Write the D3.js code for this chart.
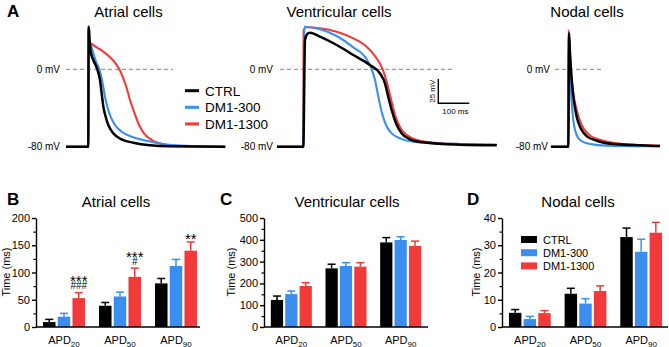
<!DOCTYPE html>
<html>
<head>
<meta charset="utf-8">
<script src="https://cdn.jsdelivr.net/npm/d3@7"></script>
<style>
  body { margin: 0; background: #fff; }
  svg { display: block; font-family: "Liberation Sans", Arial, Helvetica, sans-serif; }
</style>
</head>
<body>
<svg id="fig" width="669" height="347"></svg>
<script>
// ---- data ----
const seriesNames = ["CTRL", "DM1-300", "DM1-1300"];
const apdGroups = ["20", "50", "90"];
const colors = ["#000000", "#3a8ef0", "#f23a3a"];

// action potential traces: [time ms from upstroke, mV]
const atrialCtrl = [[-72,-80],[0,-80],[0.8,44],[2.5,40],[5,26],[7.6,18.2],[16.2,9.6],[29.1,0],[37.7,-11.1],[43.1,-24.8],[48.5,-38.6],[56,-49],[64.6,-57.6],[80.6,-66.2],[107.5,-72.4],[145,-75.9],[199,-78.6],[263.5,-79.6],[442,-80]];
const atrialDm300 = [[-72,-80],[0,-80],[1.5,31],[7.7,26.2],[16.2,16.5],[24.8,7.9],[35.5,0],[46.3,-14.5],[53.8,-28.3],[61.3,-38.6],[72,-49],[86,-57.6],[107.5,-64.5],[140,-69.7],[188,-73.8],[242,-77.2],[285,-78.6],[350,-79.6],[442,-80]];
const atrialDm1300 = [[-72,-80],[0,-80],[2,28],[10.8,26.2],[26.9,22.7],[48.5,18.2],[70,12.4],[86,6.9],[100,0],[113,-9.3],[124,-19.6],[134.5,-31.7],[147.4,-43.8],[161.3,-55.8],[179.7,-66.2],[204.5,-73.1],[236.8,-77.2],[274,-79.3],[442,-80]];

const ventCtrl = [[-85,-80],[0,-80],[5.5,30.3],[13,36.5],[21.6,37.9],[53.9,33.7],[107.7,25.1],[161.3,14.8],[215,4.4],[247,-4.1],[263.5,-14.5],[274,-28.3],[285,-42.1],[299,-55.8],[317,-66.2],[344,-72.4],[387,-75.5],[452,-77.2],[505,-77.9],[624,-78.5]];
const ventDm300 = [[-85,-80],[0,-80],[3.2,44],[53.9,41.4],[107.7,34.4],[161.3,22.7],[204.5,10.3],[220.6,0],[231.3,-11.1],[242,-28.3],[252.7,-43.8],[266.8,-57.6],[285,-66.2],[312,-71.4],[355,-74.9],[430,-76.5],[505,-77.2],[624,-78]];
const ventDm1300 = [[-85,-80],[0,-80],[1,40],[8.6,43.4],[53.9,42.4],[107.7,38.9],[161.3,32],[204.5,23.4],[236.6,11.4],[256,0],[269,-12.8],[282,-30],[296,-47.3],[314,-61],[339,-69],[376.5,-73.8],[452,-76.5],[505,-77.2],[624,-78]];

const nodalCtrl = [[-56,-80],[0,-80],[2.3,37.2],[5.5,16.5],[8.7,0],[13,-18],[18.4,-33.5],[27,-49],[40,-61],[59.3,-69],[91.6,-73.8],[145,-77.2],[231,-78.6],[296,-79.3]];
const nodalDm300 = [[-56,-80],[0,-80],[1.5,30],[5.5,0],[9.8,-28.3],[16,-52.4],[25,-66.2],[37.7,-73.1],[70,-77.2],[124,-78.9],[296,-79.5]];
const nodalDm1300 = [[-56,-80],[0,-80],[1,40.6],[7.6,0],[16,-24.8],[27,-42],[43,-57.6],[64.5,-67],[96.8,-72.4],[145,-75.9],[231,-78.3],[296,-79]];

// APD bars: rows = CTRL, DM1-300, DM1-1300; columns = APD20, APD50, APD90
const atrialMeans = [[9, 39, 80], [19, 56, 112], [53, 92, 140]];
const atrialSems  = [[5, 6, 9], [6, 8, 12], [10, 16, 16]];
const ventMeans = [[124, 269, 388], [151, 280, 399], [188, 277, 372]];
const ventSems  = [[18, 19, 22], [14, 15, 15], [15, 18, 22]];
const nodalMeans = [[5.2, 12.2, 33], [2.9, 8.6, 27.6], [5.1, 13.2, 34.6]];
const nodalSems  = [[1.2, 2, 3.3], [1, 1.8, 4.6], [0.9, 1.9, 3.8]];

// y ticks per panel
const atrialTicks = [0, 50, 100, 150, 200];
const ventTicks = [0, 100, 200, 300, 400, 500];
const nodalTicks = [0, 10, 20, 30, 40];

// significance marks over DM1-1300 bars (top line first)
const atrialMarks = [
  { group: 0, lines: ["***", "###"] },
  { group: 1, lines: ["***", "#"] },
  { group: 2, lines: ["**"] }
];

const svg = d3.select("#fig");

// ---- panel A: traces ----
const yV = d3.scaleLinear().domain([-80, 0]).range([146.7, 69.3]);

function tracePanel(p) {
  const x = d3.scaleLinear().domain([0, 100]).range([p.x0, p.x0 + 31]);
  const g = svg.append("g");

  g.append("text")
    .attr("x", p.titleX).attr("y", 17.3)
    .attr("text-anchor", "middle").attr("font-size", 15)
    .text(p.title);

  g.append("line")
    .attr("x1", p.dash[0]).attr("x2", p.dash[1])
    .attr("y1", yV(0)).attr("y2", yV(0))
    .attr("stroke", "#9a9a9a").attr("stroke-width", 1.2)
    .attr("stroke-dasharray", "4,3");

  g.append("text")
    .attr("x", p.labelX).attr("y", yV(0) + 3.5)
    .attr("text-anchor", "end").attr("font-size", 10)
    .text("0 mV");
  g.append("text")
    .attr("x", p.labelX80).attr("y", yV(-80) + 3.5)
    .attr("text-anchor", "end").attr("font-size", 10)
    .text("-80 mV");

  const line = d3.line()
    .x(d => x(d[0]))
    .y(d => yV(d[1]))
    .curve(d3.curveMonotoneX);

  [2, 1, 0].forEach(i => {
    g.append("path")
      .datum(p.traces[i])
      .attr("d", line)
      .attr("fill", "none")
      .attr("stroke", colors[i])
      .attr("stroke-width", i === 0 ? 2.5 : 2.1)
      .attr("stroke-linejoin", "round");
  });
  return x;
}

tracePanel({
  title: "Atrial cells", titleX: 128.5, x0: 88.3,
  dash: [66, 173], labelX: 60, labelX80: 60,
  traces: [atrialCtrl, atrialDm300, atrialDm1300]
});
const xVent = tracePanel({
  title: "Ventricular cells", titleX: 339, x0: 303.3,
  dash: [280, 454], labelX: 273, labelX80: 273,
  traces: [ventCtrl, ventDm300, ventDm1300]
});
tracePanel({
  title: "Nodal cells", titleX: 587, x0: 568.3,
  dash: [555, 602], labelX: 550, labelX80: 548,
  traces: [nodalCtrl, nodalDm300, nodalDm1300]
});

svg.append("text").attr("x", 7).attr("y", 16.5)
  .attr("font-size", 17).attr("font-weight", "bold").text("A");

// scale bar 25 mV / 100 ms
(function scaleBar() {
  const cx = 438.3, cy = 103.3;
  const h = yV(-25) - yV(0);
  const w = xVent(100) - xVent(0);
  svg.append("path")
    .attr("d", `M${cx},${cy - h}V${cy}H${cx + w}`)
    .attr("fill", "none").attr("stroke", "#000").attr("stroke-width", 1.4);
  svg.append("text")
    .attr("transform", `translate(${cx - 3.5},${cy - h / 2}) rotate(-90)`)
    .attr("text-anchor", "middle").attr("font-size", 8)
    .text("25 mV");
  svg.append("text")
    .attr("x", cx + 4).attr("y", cy + 11)
    .attr("font-size", 8).text("100 ms");
})();

// legend A
seriesNames.forEach((name, i) => {
  const yy = 90.7 + i * 16.6;
  svg.append("line")
    .attr("x1", 185).attr("x2", 199).attr("y1", yy).attr("y2", yy)
    .attr("stroke", colors[i]).attr("stroke-width", 3);
  svg.append("text")
    .attr("x", 205).attr("y", yy + 5)
    .attr("font-size", 13.5).text(name);
});

// ---- panels B, C, D: bars ----
function barPanel(p) {
  const g = svg.append("g");
  const yMax = d3.max(p.ticks);
  const y = d3.scaleLinear().domain([0, yMax]).range([327, 218]);
  const x = d3.scaleBand().domain(apdGroups).range(p.xRange)
    .paddingInner(0.25).paddingOuter(0.125);
  const xs = d3.scaleBand().domain(d3.range(3)).range([0, x.bandwidth()]).paddingInner(0.15);

  g.append("text").attr("x", p.letterX).attr("y", 205)
    .attr("font-size", 17).attr("font-weight", "bold").text(p.letter);
  g.append("text").attr("x", p.titleX).attr("y", 206.5)
    .attr("text-anchor", "middle").attr("font-size", 15).text(p.title);

  // bars + error bars
  p.means.forEach((row, s) => {
    row.forEach((v, gi) => {
      const bx = x(apdGroups[gi]) + xs(s);
      const bw = xs.bandwidth();
      g.append("rect")
        .attr("x", bx).attr("width", bw)
        .attr("y", y(v)).attr("height", y(0) - y(v))
        .attr("fill", colors[s]);
      const top = y(v + p.sems[s][gi]);
      const cxm = bx + bw / 2;
      g.append("line").attr("x1", cxm).attr("x2", cxm)
        .attr("y1", y(v)).attr("y2", top)
        .attr("stroke", colors[s]).attr("stroke-width", 1.5);
      g.append("line").attr("x1", cxm - 4).attr("x2", cxm + 4)
        .attr("y1", top).attr("y2", top)
        .attr("stroke", colors[s]).attr("stroke-width", 1.5);
    });
  });

  // y axis, major + minor ticks
  const step = p.ticks[1] - p.ticks[0];
  const minor = p.ticks.slice(0, -1).map(d => d + step / 2);
  const ya = g.append("g").attr("transform", `translate(${p.xRange[0]},0)`)
    .call(d3.axisLeft(y).tickValues(p.ticks).tickSize(4).tickSizeOuter(0).tickPadding(2));
  ya.select(".domain").attr("stroke-width", 1.4);
  ya.selectAll(".tick line").attr("stroke-width", 1.4);
  ya.selectAll(".tick text").attr("font-size", 11).attr("fill", "#000")
    .attr("font-family", "Liberation Sans, Arial, sans-serif");
  const ym = g.append("g").attr("transform", `translate(${p.xRange[0]},0)`)
    .call(d3.axisLeft(y).tickValues(minor).tickSize(2.5).tickFormat(""));
  ym.select(".domain").remove();
  ym.selectAll(".tick line").attr("stroke-width", 1.2);

  // x axis line
  g.append("line").attr("x1", p.xRange[0]).attr("x2", p.axisEnd)
    .attr("y1", y(0)).attr("y2", y(0))
    .attr("stroke", "#000").attr("stroke-width", 1.4);

  // x labels with subscript
  apdGroups.forEach(k => {
    const t = g.append("text")
      .attr("x", x(k) + x.bandwidth() / 2).attr("y", 344)
      .attr("text-anchor", "middle").attr("font-size", 11);
    t.append("tspan").text("APD");
    t.append("tspan").attr("font-size", 8).attr("dy", 2.5).text(k);
  });

  // y label
  g.append("text")
    .attr("transform", `translate(${p.ylabelX},272) rotate(-90)`)
    .attr("text-anchor", "middle").attr("font-size", 11)
    .text("Time (ms)");

  // significance marks: one text per stack
  (p.marks || []).forEach(m => {
    const s = 2;
    const cxm = x(apdGroups[m.group]) + xs(s) + xs.bandwidth() / 2;
    const cap = y(p.means[s][m.group] + p.sems[s][m.group]);
    const n = m.lines.length;
    const baselines = m.lines.map((txt, i) => {
      const center = cap - 7 - 8 * (n - 1 - i);
      return center + (txt[0] === "*" ? 8.7 : 3.6);
    });
    const t = g.append("text").attr("text-anchor", "middle");
    m.lines.forEach((txt, i) => {
      t.append("tspan")
        .attr("x", cxm)
        .attr(i === 0 ? "y" : "dy", i === 0 ? baselines[0] : baselines[i] - baselines[i - 1])
        .attr("font-size", txt[0] === "*" ? 15 : 10)
        .text(txt);
    });
  });

  // legend
  if (p.legend) {
    seriesNames.forEach((name, i) => {
      const yy = p.legend[1] + i * 13.2;
      g.append("rect").attr("x", p.legend[0]).attr("y", yy - 3.5)
        .attr("width", 16).attr("height", 7).attr("fill", colors[i]);
      g.append("text").attr("x", p.legend[0] + 22).attr("y", yy + 4)
        .attr("font-size", 11).text(name);
    });
  }
}

barPanel({
  letter: "B", letterX: 7, title: "Atrial cells", titleX: 116,
  ticks: atrialTicks, xRange: [36, 204], axisEnd: 200, ylabelX: 10,
  means: atrialMeans, sems: atrialSems, marks: atrialMarks
});
barPanel({
  letter: "C", letterX: 220, title: "Ventricular cells", titleX: 347,
  ticks: ventTicks, xRange: [264, 428], axisEnd: 428, ylabelX: 235,
  means: ventMeans, sems: ventSems
});
barPanel({
  letter: "D", letterX: 467, title: "Nodal cells", titleX: 578,
  ticks: nodalTicks, xRange: [502, 669], axisEnd: 668, ylabelX: 480,
  means: nodalMeans, sems: nodalSems, legend: [521, 239.5]
});
</script>
</body>
</html>
